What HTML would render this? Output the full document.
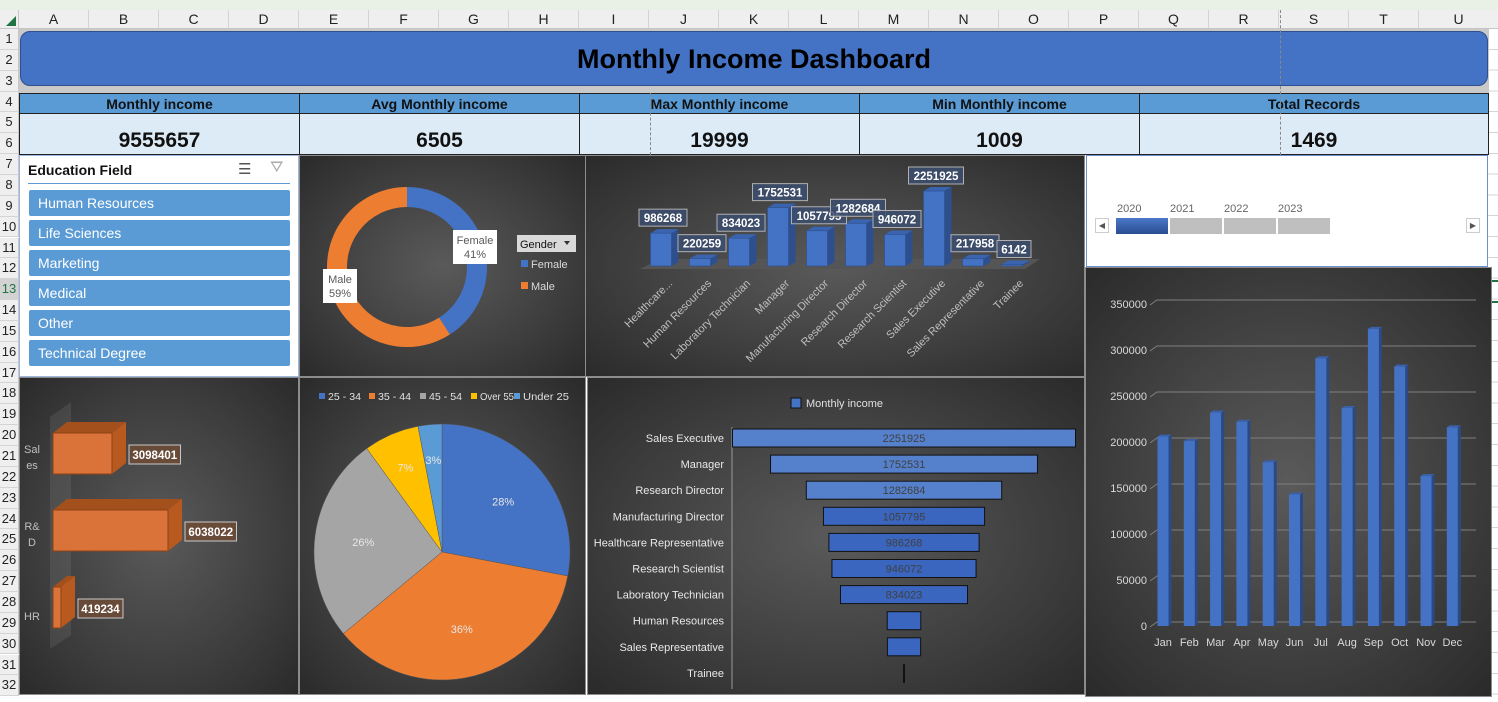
<!DOCTYPE html>
<html><head><meta charset="utf-8">
<style>
*{box-sizing:border-box;margin:0;padding:0}
body{width:1498px;height:702px;overflow:hidden;background:#fff;font-family:"Liberation Sans",Arial,sans-serif;position:relative}
.abs{position:absolute}
.colh{position:absolute;top:10px;height:19px;background:#efefef;border-right:1px solid #d4d4d4;border-bottom:1px solid #c6c6c6;font-size:14px;color:#222;text-align:center;line-height:19px}
.rowh{position:absolute;left:0;width:19px;background:#efefef;border-bottom:1px solid #d4d4d4;border-right:1px solid #c6c6c6;font-size:13px;color:#222;text-align:center}
.kh{position:absolute;top:93px;height:21px;background:#5b9bd5;border:1px solid #222;font-weight:bold;font-size:14px;text-align:center;line-height:20px;color:#111}
.kv{position:absolute;top:114px;height:41px;background:#ddebf7;border:1px solid #222;border-top:none;font-weight:bold;font-size:21px;text-align:center;line-height:54px;color:#111}
.dark{position:absolute;background:radial-gradient(ellipse at center,#5a5a5a 0%,#3e3e3e 60%,#2a2a2a 100%);border:1px solid #8c8c8c}
.sl-item{position:absolute;left:29px;width:261px;height:26px;background:#5b9bd5;color:#fff;font-size:14px;line-height:26px;padding-left:9px;border-radius:2px}
svg text{font-family:"Liberation Sans",Arial,sans-serif}
</style></head><body>
<div class="abs" style="left:0;top:0;width:1498px;height:10px;background:#e9f1e6"></div>
<div class="abs" style="left:0;top:10px;width:19px;height:19px;background:#efefef;border-right:1px solid #c6c6c6;border-bottom:1px solid #c6c6c6"><div style="position:absolute;right:2px;bottom:2px;width:0;height:0;border-left:10px solid transparent;border-bottom:10px solid #217346"></div></div>
<div id="cols"></div><div id="rows"></div>
<div class="abs" style="left:1488px;top:29px;width:10px;height:673px;background:repeating-linear-gradient(#fff 0 19.8px,#d4d4d4 19.8px 20.8px)"></div>
<div class="abs" style="left:1488px;top:280px;width:10px;height:2px;background:#217346"></div>
<div class="abs" style="left:1488px;top:301px;width:10px;height:2px;background:#217346"></div>

<div class="abs" style="left:19px;top:29px;width:1470px;height:64px;background:#c9c9c9"></div>
<div class="abs" style="left:20px;top:31px;width:1468px;height:55px;background:#4472c4;border:1px solid #2f4f8f;border-radius:10px;text-align:center;font-weight:bold;font-size:27px;line-height:54px;color:#000">Monthly Income Dashboard</div>

<div class="kh" style="left:19px;width:281px">Monthly income</div>
<div class="kh" style="left:299px;width:281px">Avg Monthly income</div>
<div class="kh" style="left:579px;width:281px">Max Monthly income</div>
<div class="kh" style="left:859px;width:281px">Min Monthly income</div>
<div class="kh" style="left:1139px;width:350px">Total Records</div>
<div class="kv" style="left:19px;width:281px">9555657</div>
<div class="kv" style="left:299px;width:281px">6505</div>
<div class="kv" style="left:579px;width:281px">19999</div>
<div class="kv" style="left:859px;width:281px">1009</div>
<div class="kv" style="left:1139px;width:350px">1469</div>
<div class="abs" style="left:650px;top:93px;height:62px;border-left:1px dashed #888"></div>
<div class="abs" style="left:1280px;top:10px;height:145px;border-left:1px dashed #888"></div>

<div class="abs" style="left:19px;top:155px;width:280px;height:222px;background:#fff;border:1px solid #9bb7e0">
  <div class="abs" style="left:8px;top:6px;font-weight:bold;font-size:14px;color:#111">Education Field</div>
  <div class="abs" style="left:218px;top:4px;font-size:15px;color:#555">☰</div>
  <div class="abs" style="left:250px;top:3px;font-size:16px;color:#aaa">⛛</div>
  <div class="abs" style="left:8px;top:27px;width:262px;height:1px;background:#5b9bd5"></div>
</div>
<div class="sl-item" style="top:190px">Human Resources</div>
<div class="sl-item" style="top:220px">Life Sciences</div>
<div class="sl-item" style="top:250px">Marketing</div>
<div class="sl-item" style="top:280px">Medical</div>
<div class="sl-item" style="top:310px">Other</div>
<div class="sl-item" style="top:340px">Technical Degree</div>

<div class="dark" style="left:299px;top:155px;width:287px;height:222px"></div>
<div class="dark" style="left:585px;top:155px;width:500px;height:222px"></div>
<div class="dark" style="left:19px;top:377px;width:280px;height:318px"></div>
<div class="dark" style="left:299px;top:377px;width:287px;height:318px"></div>
<div class="dark" style="left:587px;top:377px;width:498px;height:318px"></div>
<div class="dark" style="left:1085px;top:267px;width:407px;height:430px"></div>

<div class="abs" style="left:1086px;top:155px;width:402px;height:112px;background:#fff;border:1px solid #6d8fd0">
  <div class="abs" style="left:30px;top:47px;font-size:11px;color:#666">2020</div>
  <div class="abs" style="left:83px;top:47px;font-size:11px;color:#666">2021</div>
  <div class="abs" style="left:137px;top:47px;font-size:11px;color:#666">2022</div>
  <div class="abs" style="left:191px;top:47px;font-size:11px;color:#666">2023</div>
  <div class="abs" style="left:8px;top:62px;width:14px;height:15px;border:1px solid #ccc;font-size:8px;line-height:13px;text-align:center;color:#555">◀</div>
  <div class="abs" style="left:29px;top:62px;width:52px;height:16px;background:linear-gradient(#4a78c8,#2a4d90)"></div>
  <div class="abs" style="left:83px;top:62px;width:52px;height:16px;background:#bfbfbf"></div>
  <div class="abs" style="left:137px;top:62px;width:52px;height:16px;background:#bfbfbf"></div>
  <div class="abs" style="left:191px;top:62px;width:52px;height:16px;background:#bfbfbf"></div>
  <div class="abs" style="left:379px;top:62px;width:14px;height:15px;border:1px solid #ccc;font-size:8px;line-height:13px;text-align:center;color:#555">▶</div>
</div>

<svg id="donut" class="abs" style="left:299px;top:155px" width="287" height="222"></svg>
<svg id="jobbar" class="abs" style="left:585px;top:155px" width="500" height="222"></svg>
<svg id="dept" class="abs" style="left:19px;top:377px" width="280" height="318"></svg>
<svg id="pie" class="abs" style="left:299px;top:377px" width="287" height="318"></svg>
<svg id="funnel" class="abs" style="left:585px;top:377px" width="500" height="318"></svg>
<svg id="monthly" class="abs" style="left:1085px;top:267px" width="407" height="430"></svg>

<script>
const NS='http://www.w3.org/2000/svg';
function mk(parent,tag,attrs,txt){const e=document.createElementNS(NS,tag);for(const k in attrs)e.setAttribute(k,attrs[k]);if(txt!==undefined)e.textContent=txt;parent.appendChild(e);return e;}

const colLetters=['A','B','C','D','E','F','G','H','I','J','K','L','M','N','O','P','Q','R','S','T','U'];
const cols=document.getElementById('cols');
colLetters.forEach((c,i)=>{const d=document.createElement('div');d.className='colh';d.style.left=(19+i*70)+'px';d.style.width=(i==20?80:70)+'px';d.textContent=c;


cols.appendChild(d);});
const rows=document.getElementById('rows');
for(let r=1;r<=32;r++){const d=document.createElement('div');d.className='rowh';const t=29+(r-1)*20.85;d.style.top=t+'px';d.style.height='20.85px';d.style.lineHeight='20px';d.textContent=r;if(r==13){d.style.background='#d2d2d2';d.style.color='#217346';}


rows.appendChild(d);}

// ---------- Donut ----------
const genderCats=['Female','Male'];
const genderPct=[41,59];
const genderColors=['#4472c4','#ed7d31'];
(function(){
 const s=document.getElementById('donut');const cx=108,cy=112;
 let a0=-90;
 genderPct.forEach((p,i)=>{const a1=a0+p*3.6;const r0=a0*Math.PI/180,r1=a1*Math.PI/180;
  const ro=80,ri=60;
  const d=`M${cx+ro*Math.cos(r0)},${cy+ro*Math.sin(r0)} A${ro},${ro} 0 ${p>50?1:0} 1 ${cx+ro*Math.cos(r1)},${cy+ro*Math.sin(r1)} L${cx+ri*Math.cos(r1)},${cy+ri*Math.sin(r1)} A${ri},${ri} 0 ${p>50?1:0} 0 ${cx+ri*Math.cos(r0)},${cy+ri*Math.sin(r0)} Z`;
  const e=mk(s,'path',{d,fill:genderColors[i]});
  
  
  a0=a1;});
 const lab=[[154,75,44,34],[24,114,34,34]];
 genderCats.forEach((c,i)=>{const g=mk(s,'g',{});
  
  
  const [x,y,w,h]=lab[i];mk(g,'rect',{x,y,width:w,height:h,fill:'#fff'});
  mk(g,'text',{x:x+w/2,y:y+14,'text-anchor':'middle','font-size':11,fill:'#595959'},c);
  mk(g,'text',{x:x+w/2,y:y+28,'text-anchor':'middle','font-size':11,fill:'#595959'},genderPct[i]+'%');});
 const dd=mk(s,'g',{});
 
 
 mk(dd,'rect',{x:218,y:80,width:59,height:17,fill:'#d9d9d9'});
 mk(dd,'text',{x:221,y:93,'font-size':11,fill:'#111'},'Gender');
 mk(dd,'path',{d:'M265,86 l6,0 l-3,4 z',fill:'#333'});
 genderCats.forEach((c,i)=>{const g=mk(s,'g',{});
  
  
  mk(g,'rect',{x:222,y:105+i*22,width:7,height:7,fill:genderColors[i]});
  mk(g,'text',{x:232,y:113+i*22,'font-size':11,fill:'#d9d9d9'},c);});
})();

// ---------- Job role 3D column ----------
const jobCats=['Healthcare...','Human Resources','Laboratory Technician','Manager','Manufacturing Director','Research Director','Research Scientist','Sales Executive','Sales Representative','Trainee'];
const jobVals=[986268,220259,834023,1752531,1057795,1282684,946072,2251925,217958,6142];
(function(){
 const s=document.getElementById('jobbar');const floor=111,sc=75/2251925;
 const x=i=>76+i*39;
 mk(s,'polygon',{points:'55,114 75,104 455,104 440,114',fill:'#555'});
 jobVals.forEach((v,i)=>{const h=Math.max(v*sc,1.5),cx=x(i),w=21,top=floor-h,l=cx-w/2;
  const g=mk(s,'g',{});
  
  
  mk(g,'polygon',{points:`${l+w},${top} ${l+w+7},${top-4} ${l+w+7},${floor-4} ${l+w},${floor}`,fill:'#2d4f8e'});
  mk(g,'polygon',{points:`${l},${top} ${l+7},${top-4} ${l+w+7},${top-4} ${l+w},${top}`,fill:'#3a64b0'});
  mk(g,'rect',{x:l,y:top,width:w,height:h,fill:'#4472c4',stroke:'#2f528f','stroke-width':0.7});
 });
 jobVals.forEach((v,i)=>{const h=Math.max(v*sc,1.5),cx=x(i)+2,top=floor-h;const t=String(v);const w=t.length*7+6;
  const g=mk(s,'g',{});
  
  
  mk(g,'rect',{x:cx-w/2,y:top-24,width:w,height:17,fill:'rgba(60,78,110,0.85)',stroke:'#b0b0b0','stroke-width':1});
  mk(g,'text',{x:cx,y:top-11,'text-anchor':'middle','font-size':11.5,'font-weight':'bold',fill:'#fff'},t);
 });
 jobCats.forEach((c,i)=>{const tx=x(i)+12,ty=129;
  const e=mk(s,'text',{x:tx,y:ty,'text-anchor':'end','font-size':11,fill:'#bfbfbf',transform:`rotate(-45 ${tx} ${ty})`},c);
  
  });
})();

// ---------- Department 3D bar ----------
const deptCats=['Sales','R&D','HR'];
const deptVals=[3098401,6038022,419234];
(function(){
 const s=document.getElementById('dept');const x0=34,sc=115/6038022;
 const yTop=[56,133,210],bh=41,dx=14,dy=-11;
 mk(s,'polygon',{points:'31,40 52,25 52,258 31,272',fill:'rgba(255,255,255,0.08)'});
 deptVals.forEach((v,i)=>{const w=v*sc,y=yTop[i];const g=mk(s,'g',{});
  
  
  mk(g,'polygon',{points:`${x0},${y} ${x0+dx},${y+dy} ${x0+w+dx},${y+dy} ${x0+w},${y}`,fill:'#a4501c'});
  mk(g,'polygon',{points:`${x0+w},${y} ${x0+w+dx},${y+dy} ${x0+w+dx},${y+bh+dy} ${x0+w},${y+bh}`,fill:'#b85a20'});
  mk(g,'rect',{x:x0,y,width:w,height:bh,fill:'#d9733a',stroke:'#8e4215','stroke-width':1});
  const t=String(v),tw=t.length*6.5+6,lx=x0+w+dx+3,ly=y+12;
  mk(g,'rect',{x:lx,y:ly,width:tw,height:19,fill:'rgba(110,75,55,0.85)',stroke:'#c8c8c8'});
  mk(g,'text',{x:lx+tw/2,y:ly+14,'text-anchor':'middle','font-size':11.5,'font-weight':'bold',fill:'#fff'},t);
 });
 const labs=[['Sal','es'],['R&','D'],['HR']];
 labs.forEach((l,i)=>{l.forEach((p,j)=>{const e=mk(s,'text',{x:13,y:yTop[i]+(l.length==1?33:20)+j*16,'text-anchor':'middle','font-size':11,fill:'#bfbfbf'},p);
  
  });});
})();

// ---------- Age pie ----------
const ageCats=['25 - 34','35 - 44','45 - 54','Over 55','Under 25'];
const agePct=[28,36,26,7,3];
const ageColors=['#4472c4','#ed7d31','#a5a5a5','#ffc000','#5b9bd5'];
(function(){
 const s=document.getElementById('pie');const cx=143,cy=175,r=128;
 let a0=-90;
 agePct.forEach((p,i)=>{const a1=a0+p*3.6;const r0=a0*Math.PI/180,r1=a1*Math.PI/180;
  const d=`M${cx},${cy} L${cx+r*Math.cos(r0)},${cy+r*Math.sin(r0)} A${r},${r} 0 ${p>50?1:0} 1 ${cx+r*Math.cos(r1)},${cy+r*Math.sin(r1)} Z`;
  const e=mk(s,'path',{d,fill:ageColors[i],stroke:'#555','stroke-width':0.5});
  
  
  const am=(a0+a1)/2*Math.PI/180,lr=p<10?r*0.72:r*0.62;
  const t=mk(s,'text',{x:cx+lr*Math.cos(am),y:cy+lr*Math.sin(am)+4,'text-anchor':'middle','font-size':11,fill:'#e8e8e8'},p+'%');
  
  
  a0=a1;});
 const lx=[20,70,121,172,215];
 const lw=[33,33,33,34,46];
 ageCats.forEach((c,i)=>{const g=mk(s,'g',{});
  
  
  mk(g,'rect',{x:lx[i],y:16,width:6,height:6,fill:ageColors[i]});
  mk(g,'text',{x:lx[i]+9,y:23,'font-size':10.5,fill:'#e0e0e0',textLength:lw[i],lengthAdjust:'spacingAndGlyphs'},c);});
})();

// ---------- Funnel ----------
const funCats=['Sales Executive','Manager','Research Director','Manufacturing Director','Healthcare Representative','Research Scientist','Laboratory Technician','Human Resources','Sales Representative','Trainee'];
const funVals=[2251925,1752531,1282684,1057795,986268,946072,834023,220259,217958,6142];
(function(){
 const s=document.getElementById('funnel');const cx=319,sc=343/2251925;
 const g0=mk(s,'g',{});
 
 
 mk(g0,'rect',{x:206,y:21,width:10,height:10,fill:'#4472c4',stroke:'#111'});
 mk(g0,'text',{x:221,y:30,'font-size':11,fill:'#e0e0e0'},'Monthly income');
 mk(s,'line',{x1:147,y1:50,x2:147,y2:312,stroke:'#999'});
 funVals.forEach((v,i)=>{const y=61+i*26.1,w=v*sc;const g=mk(s,'g',{});
  
  
  if(w<4){mk(g,'rect',{x:cx-1,y:y-9,width:2,height:19,fill:'#111'});}
  else{mk(g,'rect',{x:cx-w/2,y:y-9,width:w,height:18,fill:i<3?'#5580cc':'#3a66c0',stroke:'#111','stroke-width':1});
  if(w>60)mk(g,'text',{x:cx,y:y+4,'text-anchor':'middle','font-size':11,fill:'#404040'},String(v));}
  const t=mk(s,'text',{x:139,y:y+4,'text-anchor':'end','font-size':11,fill:'#e8e8e8'},funCats[i]);
  
  
 });
})();

// ---------- Monthly columns ----------
const months=['Jan','Feb','Mar','Apr','May','Jun','Jul','Aug','Sep','Oct','Nov','Dec'];
const monthVals=[206000,201000,232000,222000,178000,143000,291000,237000,323000,282000,163000,216000];
const yTicks=[0,50000,100000,150000,200000,250000,300000,350000];
(function(){
 const s=document.getElementById('monthly');const y0=359,ys=v=>y0-v*46/50000;
 yTicks.forEach(t=>{const y=ys(t)-4;
  const l=mk(s,'polyline',{points:`65,${y+5} 72,${y} 391,${y}`,fill:'none',stroke:'#7f7f7f','stroke-width':1});
  
  
  const e=mk(s,'text',{x:62,y:ys(t)+4,'text-anchor':'end','font-size':11,fill:'#d9d9d9'},String(t));
  
  });
 const x=i=>78+i*26.3;
 monthVals.forEach((v,i)=>{const cx=x(i),w=11,top=ys(v),l=cx-w/2;const g=mk(s,'g',{});
  
  
  mk(g,'polygon',{points:`${l+w},${top} ${l+w+3},${top-2} ${l+w+3},${y0-2} ${l+w},${y0}`,fill:'#2b4a85'});
  mk(g,'polygon',{points:`${l},${top} ${l+3},${top-2} ${l+w+3},${top-2} ${l+w},${top}`,fill:'#3a60a8'});
  mk(g,'rect',{x:l,y:top,width:w,height:y0-top,fill:'#4472c4'});
  const t=mk(s,'text',{x:cx,y:379,'text-anchor':'middle','font-size':11,fill:'#d9d9d9'},months[i]);
  
  
 });
})();
</script>
</body></html>
